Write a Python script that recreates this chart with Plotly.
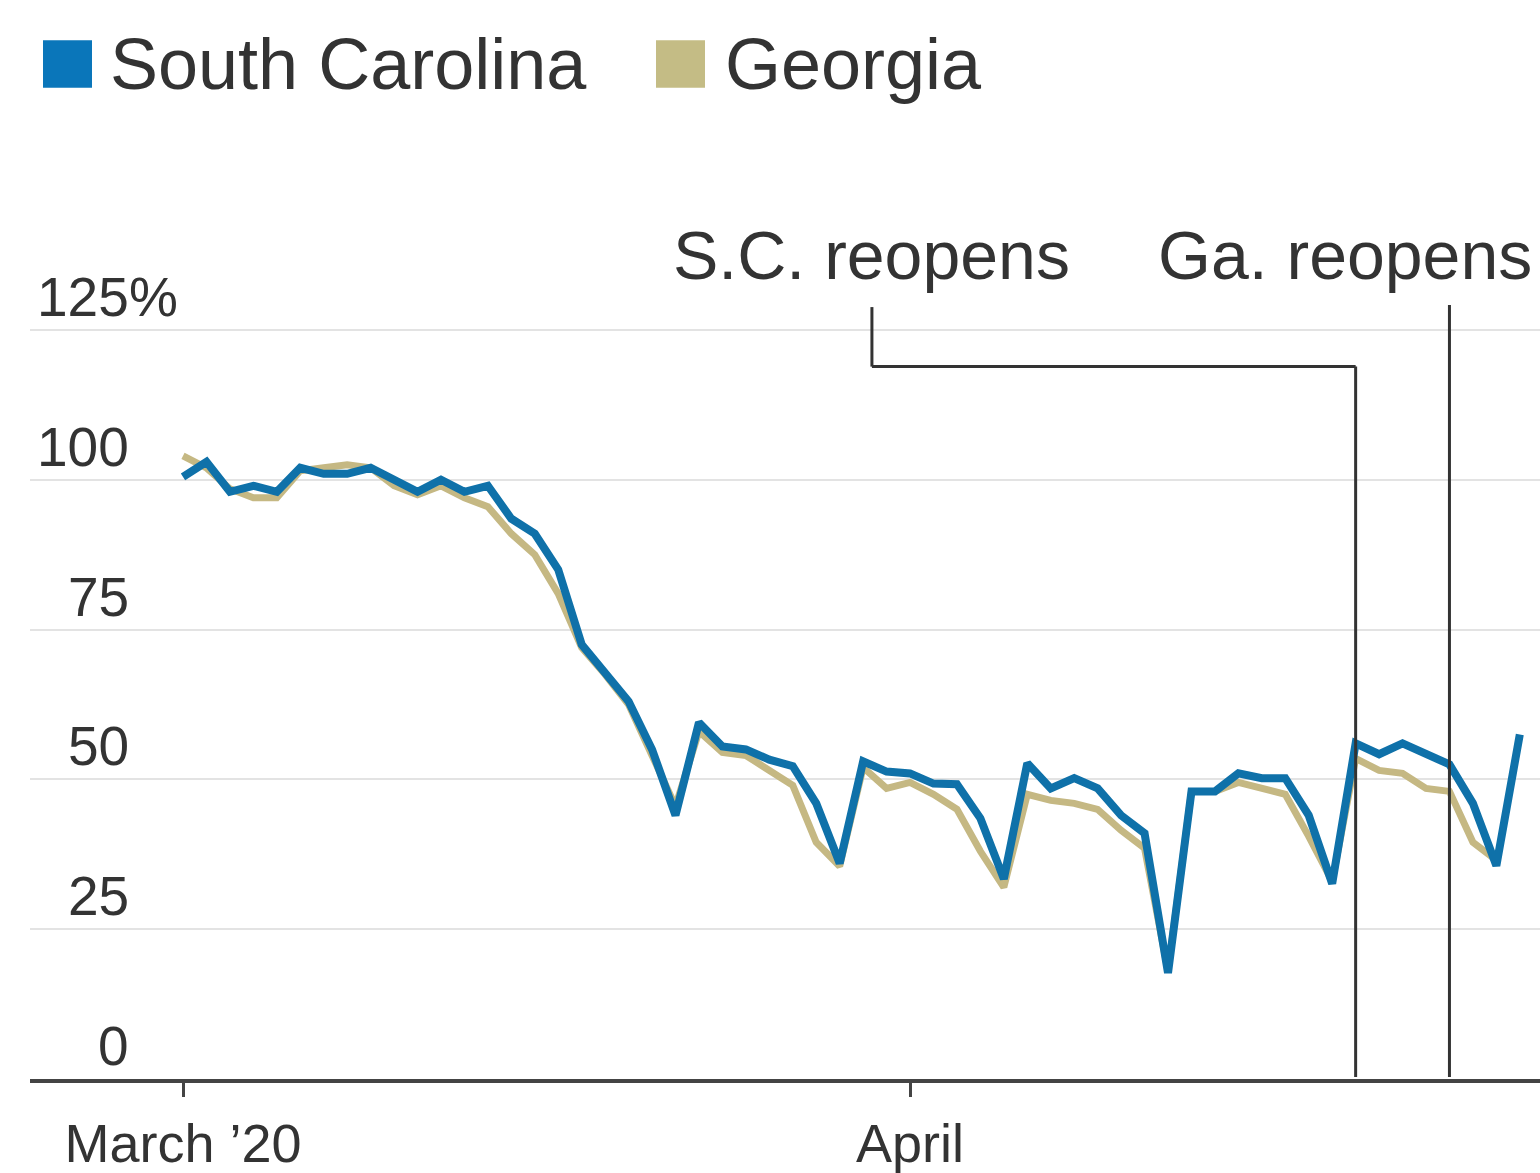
import pandas as pd
import plotly.graph_objects as go

# ---------------- data ----------------
start_date = "2020-03-01"
south_carolina = [100.5, 103, 98, 99, 98, 102, 101, 101, 102, 100,
                  98, 100, 98, 99, 93.5, 91, 85, 72.5, 68, 63,
                  55, 44, 59.5, 55.5, 55, 53.3, 52.2, 46, 36, 53,
                  51.3, 51, 49.3, 49.2, 43.5, 33.4, 52.7, 48.5, 50.2, 48.5,
                  44, 41, 17.7, 48, 48, 51, 50.2, 50.2, 44, 32.6,
                  56, 54.2, 56, 54.2, 52.5, 46, 35.6, 57.5]
georgia = [104, 102, 98.5, 97, 97, 101.5, 102, 102.5, 102, 99,
           97.5, 99, 97, 95.5, 91, 87.5, 81, 72, 67.5, 62.5,
           54, 45.5, 58, 54.5, 54, 51.5, 49, 39.5, 35.5, 52,
           48.5, 49.5, 47.5, 45, 38, 32, 47.5, 46.5, 46, 45,
           41.5, 38.5, 18, 48, 48, 49.5, 48.5, 47.5, 40.5, 33,
           53.5, 51.5, 51, 48.5, 48, 39.5, 36.5]
sc_dates = pd.date_range(start_date, periods=len(south_carolina), freq="D")
ga_dates = pd.date_range(start_date, periods=len(georgia), freq="D")

series_names = ["South Carolina", "Georgia"]
y_tick_values = [0, 25, 50, 75, 100, 125]
y_tick_labels = ["0", "25", "50", "75", "100", "125%"]
x_tick_values = ["2020-03-01", "2020-04-01"]
x_tick_labels = ["March \u201920", "April"]
reopen_labels = ["S.C. reopens", "Ga. reopens"]
reopen_dates = ["2020-04-20", "2020-04-24"]

# ---------------- style ----------------
W, H = 1540, 1173
ML, MR, MT, MB = 30, 0, 318, 88
Y_MAX = 127
FONT = "Liberation Sans, Arial, sans-serif"
TXT = "#333333"
BLUE = "#0f71a9"
TAN = "#c5b883"
BLUE_KEY = "#0a76ba"
TAN_KEY = "#c4bc85"


def px(x):
    return (x - ML) / (W - ML - MR)


def py(y):
    return (H - MB - y) / (H - MT - MB)


fig = go.Figure()
fig.add_trace(go.Scatter(x=ga_dates, y=georgia, mode="lines", name=series_names[1],
                         line=dict(color=TAN, width=7), showlegend=False))
fig.add_trace(go.Scatter(x=sc_dates, y=south_carolina, mode="lines", name=series_names[0],
                         line=dict(color=BLUE, width=8), showlegend=False))

annotations = []
shapes = []

# y tick labels (right-aligned numbers, % hangs to the right)
for v, lab in zip(y_tick_values, y_tick_labels):
    num = lab.rstrip("%")
    annotations.append(dict(xref="paper", yref="y", x=px(131), y=v, text=num,
                            xanchor="right", yanchor="bottom", showarrow=False,
                            font=dict(family=FONT, size=55, color=TXT), yshift=0))
    if lab.endswith("%"):
        annotations.append(dict(xref="paper", yref="y", x=px(127), y=v, text="%",
                                xanchor="left", yanchor="bottom", showarrow=False,
                                font=dict(family=FONT, size=55, color=TXT)))

# legend (manual squares + text)
legend_items = [(series_names[0], BLUE_KEY, 43, 112), (series_names[1], TAN_KEY, 656, 727)]
for name, col, sx, tx in legend_items:
    shapes.append(dict(type="rect", xref="paper", yref="paper",
                       x0=px(sx), x1=px(sx + 49), y0=py(86), y1=py(38),
                       fillcolor=col, line=dict(width=0)))
    annotations.append(dict(xref="paper", yref="paper", x=px(tx - 4), y=py(62), text=name,
                            xanchor="left", yanchor="middle", showarrow=False,
                            font=dict(family=FONT, size=72, color=TXT)))

# reopen annotations
LINE_COL = "#333333"
sc_label_x = "2020-03-30 09:00"
annotations.append(dict(xref="x", yref="paper", x=sc_label_x, y=py(255), text=reopen_labels[0],
                        xanchor="center", yanchor="middle", showarrow=False,
                        font=dict(family=FONT, size=68, color=TXT)))
shapes.append(dict(type="line", xref="x", yref="paper", x0=sc_label_x, x1=sc_label_x,
                   y0=py(307), y1=py(367), line=dict(color=LINE_COL, width=3)))
shapes.append(dict(type="line", xref="x", yref="paper", x0=sc_label_x, x1=reopen_dates[0],
                   y0=py(367), y1=py(367), line=dict(color=LINE_COL, width=3)))
shapes.append(dict(type="line", xref="x", yref="paper", x0=reopen_dates[0], x1=reopen_dates[0],
                   y0=py(367), y1=py(1083), line=dict(color=LINE_COL, width=3)))
annotations.append(dict(xref="paper", yref="paper", x=px(1534), y=py(255), text=reopen_labels[1],
                        xanchor="right", yanchor="middle", showarrow=False,
                        font=dict(family=FONT, size=68, color=TXT)))
shapes.append(dict(type="line", xref="x", yref="paper", x0=reopen_dates[1], x1=reopen_dates[1],
                   y0=py(305), y1=py(1083), line=dict(color=LINE_COL, width=3)))

fig.update_layout(
    width=W, height=H,
    margin=dict(l=ML, r=MR, t=MT, b=MB, pad=0),
    paper_bgcolor="white", plot_bgcolor="white",
    font=dict(family=FONT, color=TXT),
    showlegend=False,
    annotations=annotations,
    shapes=shapes,
)
fig.update_xaxes(
    type="date",
    range=["2020-02-23 11:26", "2020-04-27 20:40"],
    tickvals=x_tick_values, ticktext=x_tick_labels,
    ticks="outside", ticklen=14, tickwidth=3, tickcolor="#444444",
    tickfont=dict(family=FONT, size=54, color=TXT),
    showline=True, linecolor="#444444", linewidth=4,
    showgrid=False, zeroline=False,
)
fig.update_yaxes(
    range=[0, Y_MAX],
    tickvals=y_tick_values, showticklabels=False,
    showgrid=True, gridcolor="#e3e3e3", gridwidth=2,
    zeroline=False, showline=False, ticks="",
)

fig.write_html("out.html")
